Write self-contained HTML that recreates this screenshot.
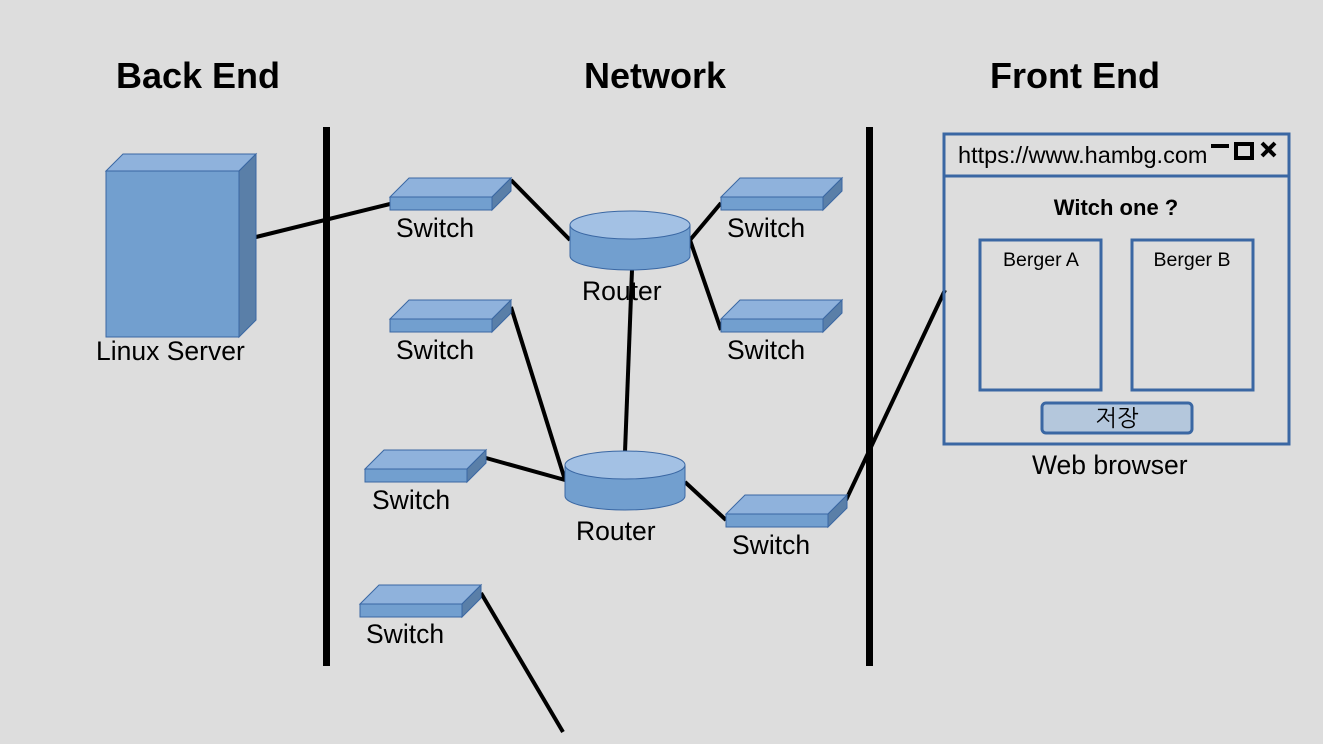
<!DOCTYPE html><html><head><style>body{margin:0;background:#dddddd}svg{display:block}text{font-family:"Liberation Sans","NanumGothic",sans-serif}</style></head><body>
<svg width="1323" height="744" viewBox="0 0 1323 744" xmlns="http://www.w3.org/2000/svg">
<rect width="1323" height="744" fill="#dddddd"/>
<defs>
<g id="sw" stroke="#3a67a3" stroke-width="1">
<polygon points="0,0 19,-19 121,-19 102,0" fill="#8fb2dc"/>
<rect x="0" y="0" width="102" height="13" fill="#729fcf"/>
<polygon points="102,0 121,-19 121,-6 102,13" fill="#5a7fa8"/>
</g>
<g id="rt" stroke="#3a67a3" stroke-width="1">
<path d="M-60,0 L-60,31 A60,14 0 0 0 60,31 L60,0 Z" fill="#729fcf"/>
<ellipse cx="0" cy="0" rx="60" ry="14" fill="#a3c1e4"/>
</g>
</defs>
<g font-weight="bold" font-size="36" text-anchor="middle">
<text x="198" y="88">Back End</text><text x="655" y="88">Network</text><text x="1075" y="88">Front End</text>
</g>
<g stroke="#000" stroke-width="4" fill="none">
<line x1="256" y1="237" x2="390" y2="204"/>
<line x1="511" y1="180" x2="570" y2="240"/>
<line x1="690" y1="240" x2="721" y2="203"/>
<line x1="690" y1="240" x2="721" y2="330"/>
<line x1="632" y1="270" x2="625" y2="452"/>
<line x1="511" y1="307" x2="565" y2="480"/>
<line x1="486" y1="458" x2="565" y2="480"/>
<line x1="685" y1="482" x2="726" y2="520"/>
<line x1="846" y1="500" x2="945" y2="290"/>
<line x1="481" y1="593" x2="563" y2="732"/>
</g>
<rect x="323" y="127" width="7" height="539" fill="#000"/>
<rect x="866" y="127" width="7" height="539" fill="#000"/>
<g stroke="#3a67a3" stroke-width="1">
<polygon points="106,171 123,154 256,154 239,171" fill="#8fb2dc"/>
<rect x="106" y="171" width="133" height="166" fill="#729fcf"/>
<polygon points="239,171 256,154 256,320 239,337" fill="#5a7fa8"/>
</g>
<use href="#sw" x="390" y="197"/><use href="#sw" x="390" y="319"/><use href="#sw" x="365" y="469"/>
<use href="#sw" x="360" y="604"/><use href="#sw" x="721" y="197"/><use href="#sw" x="721" y="319"/>
<use href="#sw" x="726" y="514"/>
<use href="#rt" x="630" y="225"/><use href="#rt" x="625" y="465"/>
<g font-size="26.5">
<text x="96" y="360">Linux Server</text>
<text x="396" y="237">Switch</text><text x="396" y="359">Switch</text><text x="372" y="509">Switch</text>
<text x="366" y="643">Switch</text><text x="727" y="237">Switch</text><text x="727" y="359">Switch</text>
<text x="732" y="554">Switch</text>
<text x="582" y="300">Router</text><text x="576" y="540">Router</text>
<text x="1032" y="474">Web browser</text>
</g>
<g stroke="#3a67a3" stroke-width="3" fill="none">
<rect x="944" y="134" width="345" height="310"/>
<line x1="944" y1="176" x2="1289" y2="176"/>
<rect x="980" y="240" width="121" height="150"/>
<rect x="1132" y="240" width="121" height="150"/>
<rect x="1042" y="403" width="150" height="30" rx="4" fill="#b4c7dc"/>
</g>
<text x="958" y="163" font-size="23.5">https://www.hambg.com</text>
<g stroke="#000" stroke-width="4" fill="none">
<line x1="1211" y1="146" x2="1229" y2="146"/>
<rect x="1236" y="144" width="16" height="14"/>
<line x1="1262" y1="143" x2="1275" y2="156"/><line x1="1275" y1="143" x2="1262" y2="156"/>
</g>
<text x="1116" y="215" font-size="22" font-weight="bold" text-anchor="middle">Witch one ?</text>
<text x="1041" y="266" font-size="19.5" text-anchor="middle">Berger A</text>
<text x="1192" y="266" font-size="19.5" text-anchor="middle">Berger B</text>
<text x="1117" y="426" font-size="23" text-anchor="middle">저장</text>
</svg></body></html>
